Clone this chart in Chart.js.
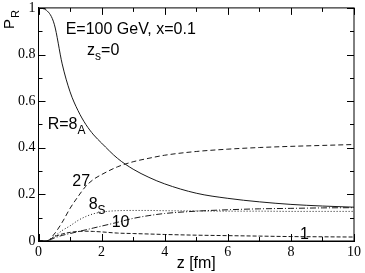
<!DOCTYPE html>
<html>
<head>
<meta charset="utf-8" />
<script src="https://cdn.jsdelivr.net/npm/chart.js@4.4.1/dist/chart.umd.min.js"></script>
<style>
  html, body { margin: 0; padding: 0; background: #fff; }
  #wrap { width: 365px; height: 273px; }
</style>
</head>
<body>
<div id="wrap"><canvas id="joonis"></canvas></div>
<script>
// z in fm
const zPts = [0, 0.25, 0.5, 0.75, 1, 1.25, 1.5, 1.75, 2, 2.5, 3, 3.5, 4, 5, 6, 7, 8, 9, 10];
// probabilities P_R for each representation
const p8A  = [1, 0.99, 0.93, 0.76, 0.64, 0.56, 0.5, 0.455, 0.42, 0.355, 0.308, 0.273, 0.245, 0.205, 0.183, 0.168, 0.157, 0.15, 0.145];
const p27  = [0, 0, 0.03, 0.08, 0.14, 0.19, 0.235, 0.265, 0.285, 0.318, 0.34, 0.355, 0.368, 0.384, 0.394, 0.401, 0.406, 0.41, 0.414];
const p8S  = [0, 0, 0.02, 0.045, 0.065, 0.088, 0.105, 0.117, 0.124, 0.13, 0.131, 0.131, 0.13, 0.129, 0.128, 0.128, 0.127, 0.127, 0.127];
const p10  = [0, 0, 0.013, 0.024, 0.032, 0.04, 0.048, 0.056, 0.064, 0.08, 0.097, 0.109, 0.118, 0.128, 0.134, 0.138, 0.14, 0.142, 0.143];
const p1   = [0, 0, 0.018, 0.03, 0.037, 0.041, 0.042, 0.041, 0.039, 0.034, 0.032, 0.03, 0.028, 0.025, 0.023, 0.021, 0.019, 0.018, 0.017];
const xTicks = [0, 2, 4, 6, 8, 10];
const yTicks = [0, 0.2, 0.4, 0.6, 0.8, 1];

function rida(arr, dash) {
  return {
    data: zPts.map((z, i) => ({x: z, y: arr[i]})),
    borderColor: '#1a1a1a',
    borderWidth: 1,
    borderDash: dash,
    pointRadius: 0,
    cubicInterpolationMode: 'monotone',
    fill: false
  };
}

const sans = '"Liberation Sans", Arial, sans-serif';
const serif = '"Liberation Serif", "Times New Roman", serif';

// text with optional subscript, placed in data coordinates
function silt(ctx, ch, x, y, main, sub, size, rest) {
  let px = ch.scales.x.getPixelForValue(x);
  const py = ch.scales.y.getPixelForValue(y);
  ctx.font = size + 'px ' + sans;
  ctx.fillText(main, px, py);
  px += ctx.measureText(main).width;
  if (sub) {
    ctx.font = Math.round(size * 0.72) + 'px ' + sans;
    ctx.fillText(sub, px, py + 5);
    px += ctx.measureText(sub).width;
  }
  if (rest) {
    ctx.font = size + 'px ' + sans;
    ctx.fillText(rest, px, py);
  }
}

const raam = {
  id: 'raam',
  afterDraw(ch) {
    const ctx = ch.ctx, a = ch.chartArea, sx = ch.scales.x, sy = ch.scales.y;
    ctx.save();
    ctx.strokeStyle = '#000';
    ctx.lineWidth = 1;
    ctx.strokeRect(a.left, a.top, a.right - a.left, a.bottom - a.top);
    ctx.beginPath();
    for (let i = 0; i <= 10; i++) {
      const px = Math.round(sx.getPixelForValue(i)) + 0.5;
      const L = i % 2 == 0 ? 7 : 4;
      ctx.moveTo(px, a.bottom); ctx.lineTo(px, a.bottom - L);
      ctx.moveTo(px, a.top); ctx.lineTo(px, a.top + L);
    }
    for (let i = 0; i <= 10; i++) {
      const py = Math.round(sy.getPixelForValue(i / 10)) + 0.5;
      const L = i % 2 == 0 ? 7 : 4;
      ctx.moveTo(a.left, py); ctx.lineTo(a.left + L, py);
      ctx.moveTo(a.right, py); ctx.lineTo(a.right - L, py);
    }
    ctx.stroke();

    ctx.fillStyle = '#000';
    ctx.textBaseline = 'alphabetic';
    ctx.textAlign = 'left';
    silt(ctx, ch, 0.86, 0.886, 'E=100 GeV, x=0.1', '', 16);
    silt(ctx, ch, 1.54, 0.797, 'z', 's', 16, '=0');
    silt(ctx, ch, 0.29, 0.479, 'R=8', 'A', 16);
    silt(ctx, ch, 1.07, 0.237, '27', '', 16);
    silt(ctx, ch, 1.59, 0.138, '8', 'S', 16);
    silt(ctx, ch, 2.32, 0.061, '10', '', 16);
    silt(ctx, ch, 8.29, 0.007, '1', '', 16);

    // x axis title
    ctx.font = '16px ' + sans;
    ctx.textAlign = 'center';
    ctx.fillText('z [fm]', (a.left + a.right) / 2, 268);
    ctx.textAlign = 'left';

    // y axis title P_R
    ctx.translate(14, 29);
    ctx.rotate(-Math.PI / 2);
    ctx.font = '15px ' + sans;
    ctx.fillText('P', 0, 0);
    ctx.font = '11px ' + sans;
    ctx.fillText('R', 11, 5);
    ctx.restore();
  }
};

new Chart(document.getElementById('joonis'), {
  type: 'line',
  data: {
    datasets: [
      rida(p8A, []),
      rida(p27, [5, 3]),
      rida(p8S, [1, 2]),
      rida(p10, [6, 2, 1, 2]),
      rida(p1, [4, 2])
    ]
  },
  options: {
    responsive: true,
    maintainAspectRatio: false,
    animation: false,
    layout: { padding: { left: 15, right: 8, top: 5, bottom: 10 } },
    plugins: { legend: { display: false }, tooltip: { enabled: false } },
    scales: {
      x: {
        type: 'linear', min: 0, max: 10,
        afterBuildTicks: s => { s.ticks = xTicks.map(v => ({value: v})); },
        ticks: { color: '#000', font: { family: serif, size: 14, lineHeight: 1 }, padding: 4, maxRotation: 0 },
        grid: { drawOnChartArea: false, drawTicks: false },
        border: { color: '#000' }
      },
      y: {
        min: 0, max: 1,
        afterBuildTicks: s => { s.ticks = yTicks.map(v => ({value: v})); },
        ticks: { color: '#000', font: { family: serif, size: 14, lineHeight: 0.7 }, padding: 3,
                 callback: v => String(Math.round(v * 10) / 10) },
        grid: { drawOnChartArea: false, drawTicks: false },
        border: { color: '#000' }
      }
    }
  },
  plugins: [raam]
});
</script>
</body>
</html>
